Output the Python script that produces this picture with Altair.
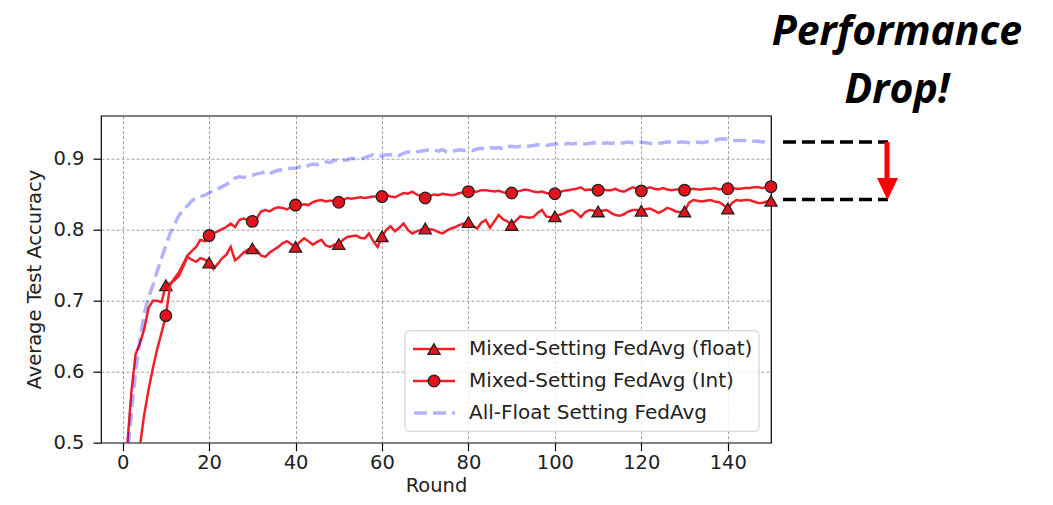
import altair as alt
import pandas as pd

# ---------------- data ----------------
rounds = list(range(1, 151))

float_acc = [
    0.490, 0.570, 0.625, 0.640, 0.660, 0.690, 0.700, 0.700, 0.698, 0.722,
    0.725, 0.729, 0.735, 0.748, 0.762, 0.758, 0.755, 0.760, 0.758, 0.754,
    0.745, 0.752, 0.760, 0.765, 0.776, 0.757, 0.762, 0.768, 0.772, 0.774,
    0.772, 0.764, 0.762, 0.768, 0.772, 0.776, 0.781, 0.784, 0.780, 0.776,
    0.783, 0.788, 0.784, 0.779, 0.783, 0.786, 0.778, 0.776, 0.779, 0.780,
    0.786, 0.790, 0.791, 0.792, 0.789, 0.788, 0.795, 0.784, 0.776, 0.791,
    0.800, 0.805, 0.798, 0.803, 0.809, 0.800, 0.795, 0.798, 0.800, 0.802,
    0.801, 0.800, 0.797, 0.795, 0.799, 0.802, 0.804, 0.807, 0.809, 0.811,
    0.806, 0.802, 0.810, 0.814, 0.803, 0.812, 0.821, 0.815, 0.812, 0.807,
    0.813, 0.819, 0.818, 0.817, 0.818, 0.824, 0.828, 0.819, 0.818, 0.819,
    0.821, 0.823, 0.826, 0.828, 0.824, 0.818, 0.825, 0.828, 0.827, 0.826,
    0.827, 0.828, 0.824, 0.821, 0.820, 0.822, 0.826, 0.828, 0.828, 0.827,
    0.829, 0.830, 0.827, 0.824, 0.827, 0.831, 0.829, 0.826, 0.825, 0.826,
    0.838, 0.842, 0.841, 0.840, 0.841, 0.842, 0.840, 0.839, 0.835, 0.830,
    0.838, 0.842, 0.841, 0.842, 0.842, 0.840, 0.838, 0.838, 0.840, 0.841,
]

int_acc = [
    0.400, 0.420, 0.450, 0.495, 0.540, 0.575, 0.605, 0.632, 0.655, 0.679,
    0.722, 0.732, 0.740, 0.752, 0.764, 0.770, 0.776, 0.786, 0.784, 0.792,
    0.795, 0.798, 0.801, 0.804, 0.809, 0.804, 0.814, 0.816, 0.814, 0.812,
    0.816, 0.826, 0.828, 0.826, 0.830, 0.832, 0.831, 0.829, 0.832, 0.835,
    0.835, 0.836, 0.835, 0.839, 0.841, 0.842, 0.840, 0.841, 0.841, 0.839,
    0.842, 0.845, 0.844, 0.845, 0.846, 0.845, 0.846, 0.847, 0.847, 0.847,
    0.849, 0.847, 0.846, 0.849, 0.852, 0.851, 0.854, 0.850, 0.848, 0.845,
    0.848, 0.850, 0.849, 0.851, 0.850, 0.849, 0.850, 0.852, 0.853, 0.854,
    0.853, 0.854, 0.856, 0.856, 0.855, 0.854, 0.855, 0.853, 0.852, 0.852,
    0.854, 0.855, 0.857, 0.856, 0.854, 0.853, 0.854, 0.852, 0.851, 0.851,
    0.853, 0.855, 0.856, 0.857, 0.858, 0.860, 0.856, 0.857, 0.856, 0.856,
    0.857, 0.856, 0.856, 0.858, 0.855, 0.854, 0.857, 0.860, 0.858, 0.855,
    0.858, 0.860, 0.858, 0.857, 0.859, 0.857, 0.856, 0.857, 0.857, 0.856,
    0.857, 0.858, 0.857, 0.857, 0.858, 0.858, 0.859, 0.857, 0.858, 0.858,
    0.859, 0.858, 0.858, 0.859, 0.859, 0.860, 0.860, 0.859, 0.860, 0.861,
]

allfloat_acc = [
    0.470, 0.540, 0.600, 0.645, 0.682, 0.705, 0.722, 0.742, 0.760, 0.778,
    0.795, 0.808, 0.820, 0.828, 0.834, 0.841, 0.845, 0.847, 0.849, 0.852,
    0.856, 0.858, 0.861, 0.864, 0.868, 0.873, 0.875, 0.874, 0.876, 0.877,
    0.879, 0.880, 0.882, 0.879, 0.882, 0.884, 0.885, 0.886, 0.887, 0.887,
    0.889, 0.888, 0.891, 0.893, 0.892, 0.894, 0.896, 0.895, 0.898, 0.899,
    0.898, 0.899, 0.901, 0.900, 0.899, 0.902, 0.904, 0.906, 0.905, 0.904,
    0.906, 0.906, 0.907, 0.905, 0.908, 0.910, 0.909, 0.910, 0.911, 0.912,
    0.913, 0.913, 0.911, 0.913, 0.910, 0.910, 0.912, 0.913, 0.912, 0.913,
    0.912, 0.914, 0.915, 0.914, 0.916, 0.915, 0.916, 0.914, 0.917, 0.918,
    0.917, 0.918, 0.919, 0.918, 0.919, 0.920, 0.920, 0.919, 0.920, 0.921,
    0.921, 0.920, 0.922, 0.921, 0.922, 0.922, 0.921, 0.922, 0.923, 0.922,
    0.922, 0.923, 0.922, 0.923, 0.922, 0.923, 0.924, 0.923, 0.924, 0.924,
    0.923, 0.922, 0.921, 0.922, 0.923, 0.924, 0.924, 0.923, 0.924, 0.924,
    0.923, 0.923, 0.924, 0.923, 0.924, 0.925, 0.926, 0.928, 0.928, 0.928,
    0.926, 0.926, 0.926, 0.926, 0.925, 0.925, 0.925, 0.924, 0.925, 0.926,
]

marker_every = 10
x_ticks = [0, 20, 40, 60, 80, 100, 120, 140]
y_ticks = [0.5, 0.6, 0.7, 0.8, 0.9]
series_names = ["float", "int", "allfloat"]
legend_labels = [
    "Mixed-Setting FedAvg (float)",
    "Mixed-Setting FedAvg (Int)",
    "All-Float Setting FedAvg",
]
drop_levels = [0.924, 0.843]   # end levels of the two compared curves
annotation_lines = ["Performance", "Drop!"]

# ---------------- build table ----------------
frames = []
for name, vals in zip(series_names, [float_acc, int_acc, allfloat_acc]):
    frames.append(pd.DataFrame({"round": rounds, "acc": vals, "series": name}))
df = pd.concat(frames, ignore_index=True)
levels_df = pd.DataFrame({"level": drop_levels})
one = pd.DataFrame({"k": [0]})

RED_LINE = "#f0202a"
RED_FILL = "#e3131d"
EDGE = "#222222"
FONT = "DejaVu Sans"
FS = 19.5

x_scale = alt.Scale(domain=[-5, 150], nice=False, zero=False)
y_scale = alt.Scale(domain=[0.5, 0.961], nice=False, zero=False)
x_axis = alt.Axis(values=x_ticks, title="Round", labelPadding=3, titlePadding=4)
y_axis = alt.Axis(values=y_ticks, format=".1f", title="Average Test Accuracy",
                  labelPadding=9, titlePadding=9)

X = alt.X("round:Q", scale=x_scale, axis=x_axis)
Y = alt.Y("acc:Q", scale=y_scale, axis=y_axis)

base = alt.Chart(df)

float_line = base.transform_filter(alt.datum.series == "float").mark_line(
    color=RED_LINE, strokeWidth=2.5, clip=True).encode(x=X, y=Y)
float_pts = base.transform_filter(
    (alt.datum.series == "float") & (alt.datum["round"] % marker_every == 0)
).mark_point(shape="triangle-up", filled=True, fill=RED_FILL, stroke=EDGE,
             strokeWidth=1.3, size=150, opacity=1).encode(x=X, y=Y)

int_line = base.transform_filter(alt.datum.series == "int").mark_line(
    color=RED_LINE, strokeWidth=2.5, clip=True).encode(x=X, y=Y)
int_pts = base.transform_filter(
    (alt.datum.series == "int") & (alt.datum["round"] % marker_every == 0)
).mark_point(shape="circle", filled=True, fill=RED_FILL, stroke=EDGE,
             strokeWidth=1.3, size=135, opacity=1).encode(x=X, y=Y)

blue_line = base.transform_filter(alt.datum.series == "allfloat").mark_line(
    color="#0000ff", strokeOpacity=0.3, strokeWidth=3.5, strokeDash=[13, 6],
    clip=True).encode(x=X, y=Y)

# ---------------- legend (drawn manually: line + marker) ----------------
leg_x0, leg_x1, leg_y0, leg_y1 = 304, 658, 215, 315.5
row_y = [233.3, 265.3, 297.3]
line_x0, line_x1, mark_x, text_x = 312, 354, 333, 368

leg_layers = [
    alt.Chart(one).mark_rect(fill="white", fillOpacity=0.8, stroke="#cccccc",
                             strokeWidth=1, cornerRadius=4).encode(
        x=alt.value(leg_x0), x2=alt.value(leg_x1),
        y=alt.value(leg_y0), y2=alt.value(leg_y1))
]
for i, label in enumerate(legend_labels):
    if i < 2:
        leg_layers.append(alt.Chart(one).mark_rule(color=RED_LINE, strokeWidth=2.5).encode(
            x=alt.value(line_x0), x2=alt.value(line_x1), y=alt.value(row_y[i])))
        leg_layers.append(alt.Chart(one).mark_point(
            shape="triangle-up" if i == 0 else "circle", filled=True, fill=RED_FILL,
            stroke=EDGE, strokeWidth=1.3, size=150 if i == 0 else 135, opacity=1).encode(
            x=alt.value(mark_x), y=alt.value(row_y[i])))
    else:
        leg_layers.append(alt.Chart(one).mark_rule(
            color="#0000ff", strokeOpacity=0.3, strokeWidth=3.5, strokeDash=[13, 6]).encode(
            x=alt.value(line_x0 + 1), x2=alt.value(line_x1), y=alt.value(row_y[i])))
    leg_layers.append(alt.Chart(one).mark_text(
        align="left", baseline="middle", font=FONT, fontSize=20, color="#222222").encode(
        x=alt.value(text_x), y=alt.value(row_y[i]), text=alt.value(label)))

# ---------------- annotation ----------------
drop_rules = alt.Chart(levels_df).mark_rule(
    color="black", strokeWidth=3.5, strokeDash=[13, 6]).encode(
    x=alt.value(682), x2=alt.value(787),
    y=alt.Y("level:Q", scale=y_scale, axis=y_axis))
arrow_shaft = alt.Chart(one).mark_rule(color="#ff0000", strokeWidth=5).encode(
    x=alt.value(786), y=alt.value(26.3), y2=alt.value(63))
arrow_head = alt.Chart(one).mark_point(
    shape="M-1,-1.05L1,-1.05L0,1.05Z", filled=True, fill="#ff0000", size=441,
    strokeWidth=0, opacity=1).encode(x=alt.value(786.5), y=alt.value(73.3))
ann_text = [
    alt.Chart(one).mark_text(align="center", baseline="alphabetic", font="Open Sans",
                             fontStyle="italic", fontWeight="bold", fontSize=41,
                             color="black").encode(
        x=alt.value(796), y=alt.value(yy), text=alt.value(t))
    for t, yy in zip(annotation_lines, [-70.7, -12.7])
]

chart = alt.layer(
    float_line, float_pts, int_line, int_pts, blue_line,
    *leg_layers, drop_rules, arrow_shaft, arrow_head, *ann_text
).properties(
    width=670, height=327,
    autosize=alt.AutoSizeParams(type="none"),
    padding={"left": 93, "top": 107.7, "right": 274, "bottom": 54},
).configure_view(
    stroke="black", strokeWidth=1.2
).configure_axis(
    domain=False, grid=True, gridColor="#8a8a8a", gridDash=[3, 2], gridWidth=0.8,
    tickColor="black", tickSize=8, tickWidth=1.2,
    labelFont=FONT, labelFontSize=FS, labelColor="#222222",
    titleFont=FONT, titleFontSize=FS, titleFontWeight="normal", titleColor="#222222",
)

chart.save("out.html", embed_options={"renderer": "svg", "actions": False})
